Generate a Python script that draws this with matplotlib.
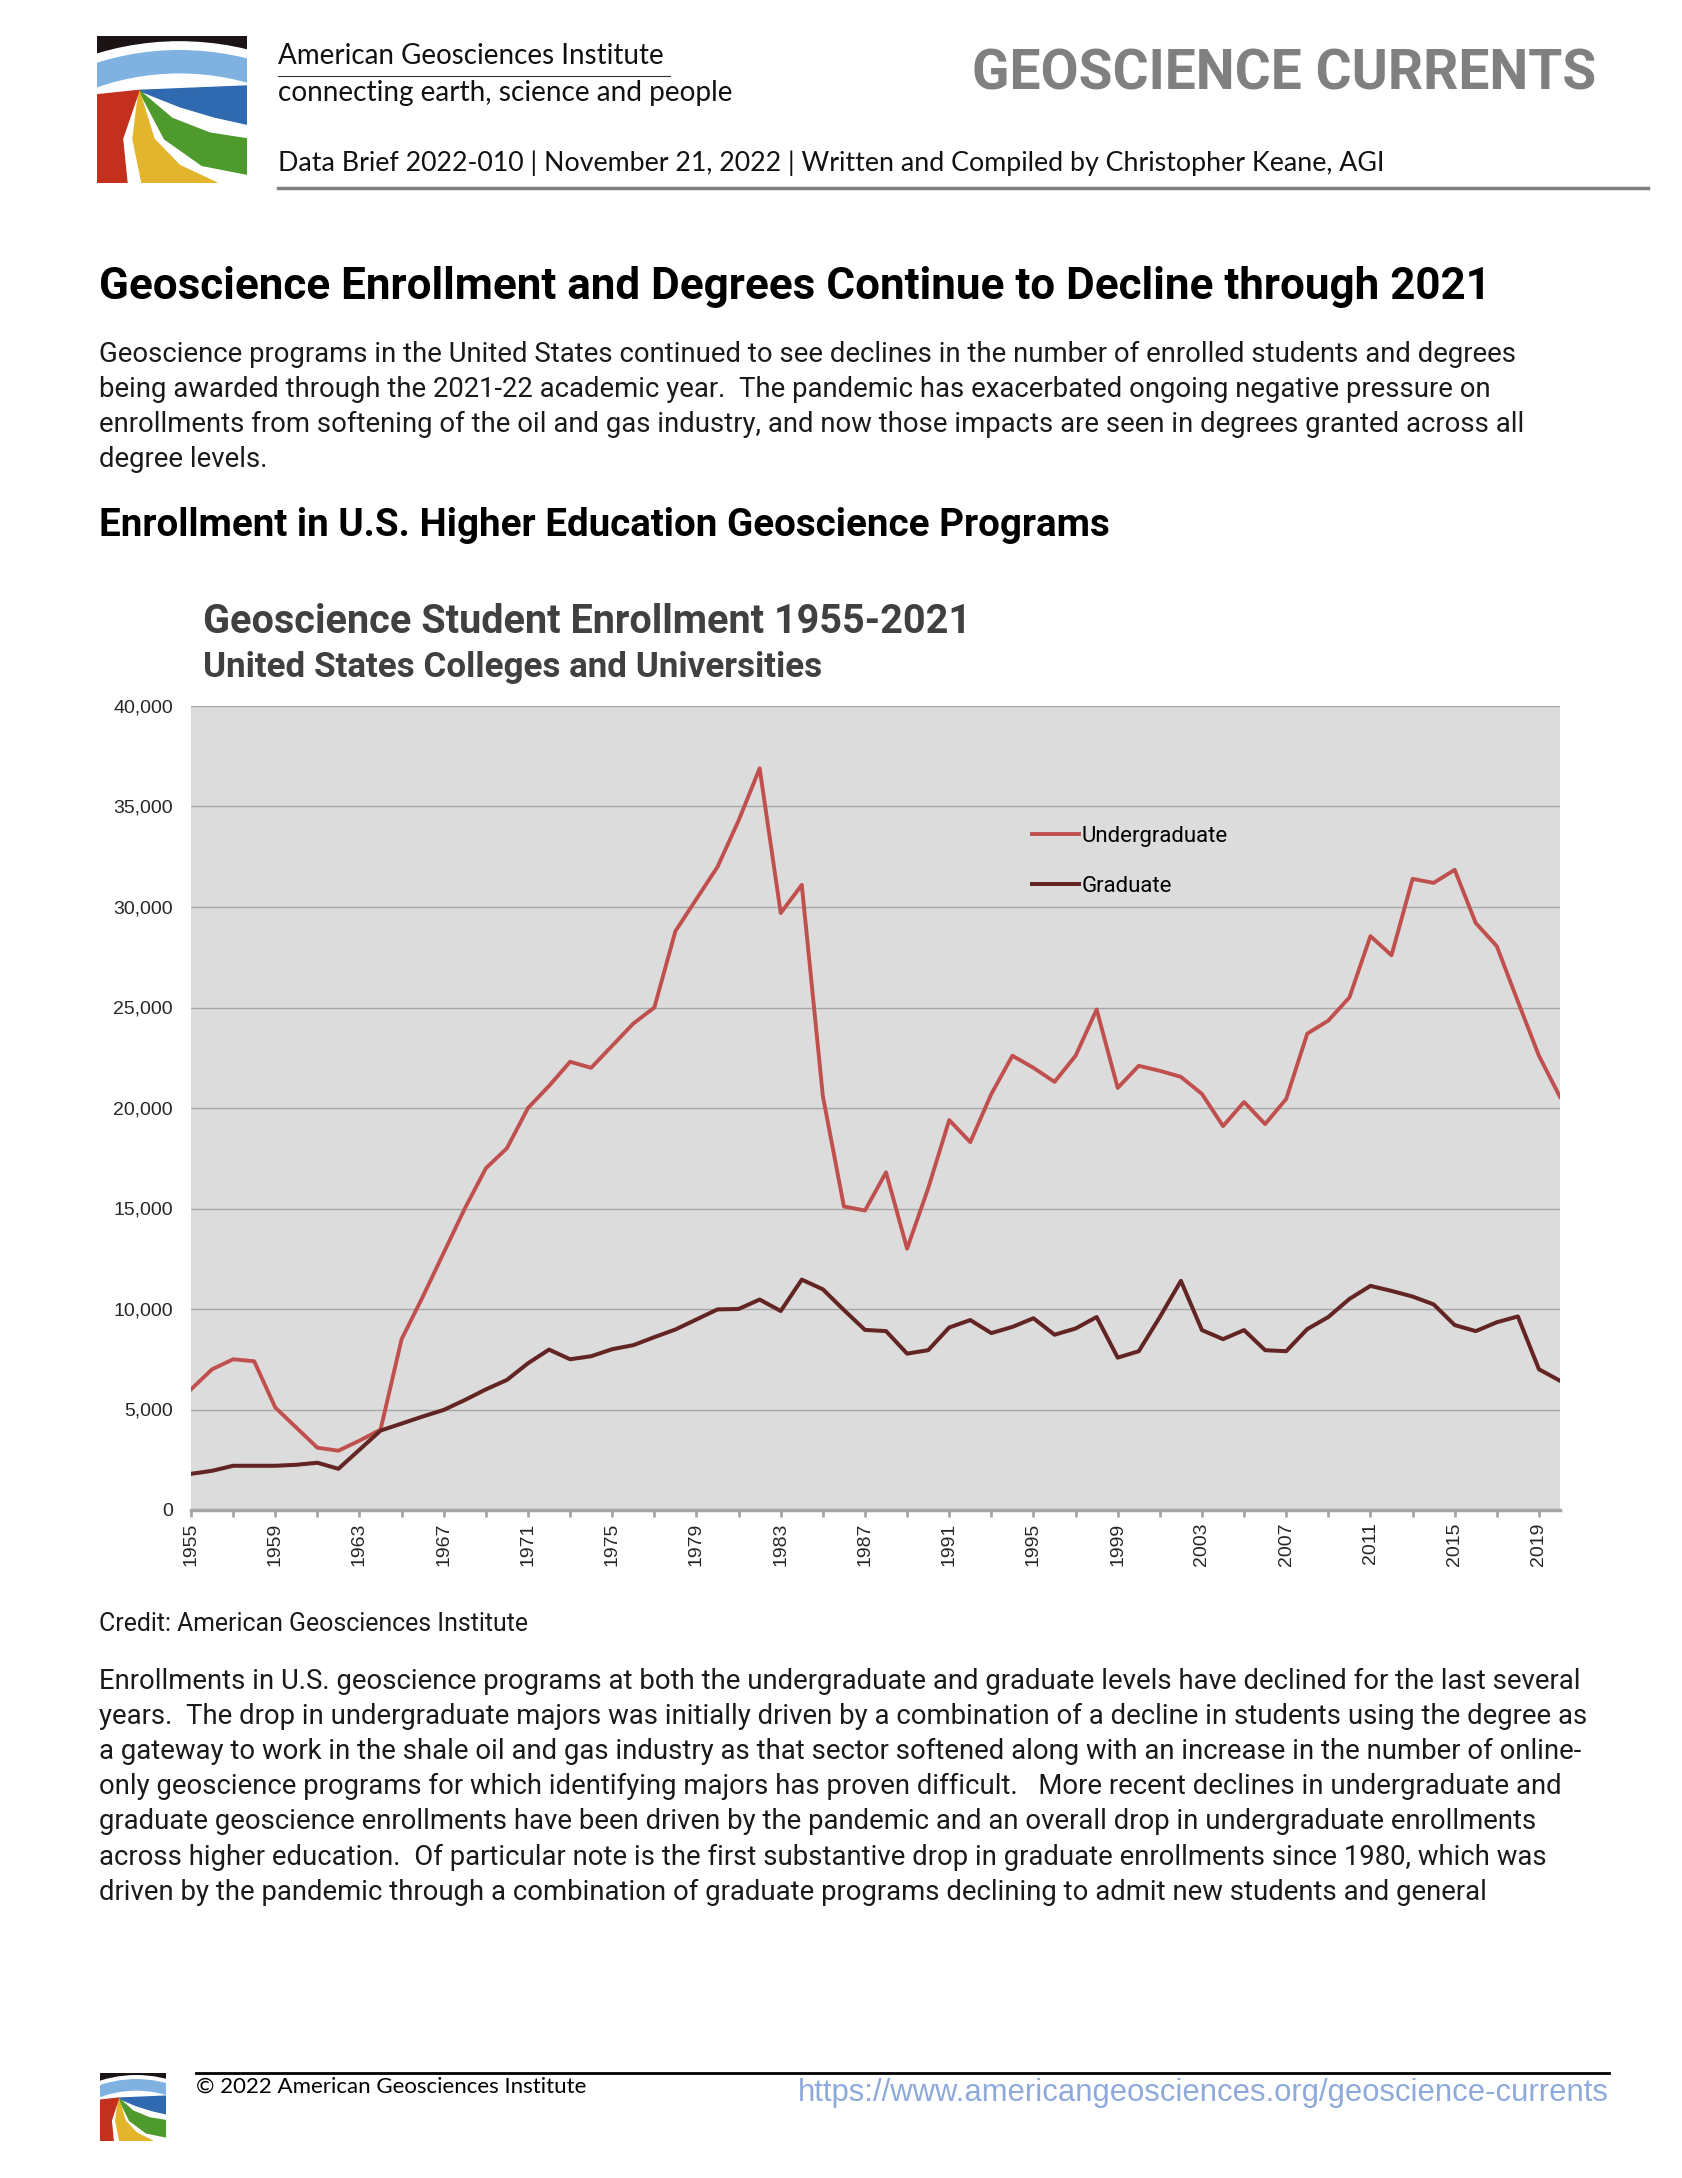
import matplotlib
matplotlib.use("Agg")
import matplotlib.pyplot as plt
from matplotlib import font_manager
from matplotlib.lines import Line2D
from matplotlib.patches import Rectangle, Wedge, Polygon
from matplotlib.ticker import FuncFormatter

# ==========================================
# 1. data
# ==========================================
years = list(range(1955, 2021))

undergrad = [
    6000, 7000, 7500, 7400, 5100, 4100, 3100, 2950, 3450, 4000,        # 1955-64
    8500, 10600, 12800, 15000, 17000, 18000, 20000, 21100, 22300, 22000,  # 1965-74
    23100, 24200, 25000, 28800, 30400, 32000, 34300, 36900, 29700, 31100,  # 1975-84
    20600, 15100, 14900, 16800, 13000, 16000, 19400, 18300, 20700, 22600,  # 1985-94
    22000, 21300, 22600, 24900, 21000, 22100, 21850, 21550, 20700, 19100,  # 1995-04
    20300, 19200, 20450, 23700, 24350, 25500, 28550, 27600, 31400, 31200,  # 2005-14
    31850, 29200, 28050, 25300, 22600, 20550,                              # 2015-20
]

graduate = [
    1800, 1950, 2200, 2200, 2200, 2250, 2350, 2050, 3000, 3950,
    4300, 4650, 4980, 5470, 6000, 6470, 7300, 7980, 7500, 7650,
    8000, 8200, 8600, 8980, 9480, 9980, 10000, 10470, 9900, 11460,
    10980, 9950, 8960, 8900, 7780, 7950, 9080, 9450, 8800, 9110,
    9540, 8720, 9030, 9600, 7580, 7900, 9600, 11400, 8950, 8500,
    8950, 7950, 7900, 9000, 9600, 10500, 11150, 10900, 10620, 10230,
    9200, 8900, 9340, 9630, 7000, 6430,
]

series_labels = ["Undergraduate", "Graduate"]
y_ticks = [0, 5000, 10000, 15000, 20000, 25000, 30000, 35000, 40000]
x_label_years = list(range(1955, 2020, 4))   # labelled ticks
x_minor_years = list(range(1957, 2020, 4))   # unlabelled ticks in between

header_org = "American Geosciences Institute"
header_tag = "connecting earth, science and people"
header_brand = "GEOSCIENCE CURRENTS"
header_brief = "Data Brief 2022-010 | November 21, 2022 | Written and Compiled by Christopher Keane, AGI"
heading = "Geoscience Enrollment and Degrees Continue to Decline through 2021"
intro_lines = [
    "Geoscience programs in the United States continued to see declines in the number of enrolled students and degrees",
    "being awarded through the 2021-22 academic year.  The pandemic has exacerbated ongoing negative pressure on",
    "enrollments from softening of the oil and gas industry, and now those impacts are seen in degrees granted across all",
    "degree levels.",
]
subheading = "Enrollment in U.S. Higher Education Geoscience Programs"
chart_title = "Geoscience Student Enrollment 1955-2021"
chart_subtitle = "United States Colleges and Universities"
credit = "Credit: American Geosciences Institute"
body_lines = [
    "Enrollments in U.S. geoscience programs at both the undergraduate and graduate levels have declined for the last several",
    "years.  The drop in undergraduate majors was initially driven by a combination of a decline in students using the degree as",
    "a gateway to work in the shale oil and gas industry as that sector softened along with an increase in the number of online-",
    "only geoscience programs for which identifying majors has proven difficult.   More recent declines in undergraduate and",
    "graduate geoscience enrollments have been driven by the pandemic and an overall drop in undergraduate enrollments",
    "across higher education.  Of particular note is the first substantive drop in graduate enrollments since 1980, which was",
    "driven by the pandemic through a combination of graduate programs declining to admit new students and general",
]
footer_left = "\u00a9 2022 American Geosciences Institute"
footer_url = "https://www.americangeosciences.org/geoscience-currents"

# ==========================================
# 2. look
# ==========================================
W, H = 1683, 2178
UG_COLOR = "#C0504D"
GR_COLOR = "#632523"
GRID = "#A6A6A6"
PLOT_BG = "#DCDCDC"


def has_font(name):
    try:
        font_manager.findfont(name, fallback_to_default=False)
        return True
    except Exception:
        return False


HUMAN = "Lato" if has_font("Lato") else "Open Sans"
ARIAL = ["Liberation Sans", "DejaVu Sans"]

plt.rcParams["font.family"] = ["Roboto", "DejaVu Sans"]


def fx(x):
    return x / W


def fy(y):
    return 1 - y / H


fig = plt.figure(figsize=(W / 100, H / 100), dpi=100)
fig.patch.set_facecolor("white")


def draw_logo(x0, y0, x1, y1):
    # rough stand-in for the AGI logo picture
    lax = fig.add_axes([fx(x0), fy(y1), fx(x1 - x0), (y1 - y0) / H])
    lax.set_xlim(0, 1)
    lax.set_ylim(0, 1)
    lax.axis("off")
    lax.add_patch(Rectangle((0, 0), 1, 1, color="#1c1414"))
    lax.add_patch(Wedge((0.55, -0.9), 1.86, 0, 180, width=0.30, color="white"))
    lax.add_patch(Wedge((0.55, -0.9), 1.80, 0, 180, width=0.15, color="#7fb2e0"))
    lax.add_patch(Wedge((0.55, -0.9), 1.56, 0, 180, color="white"))
    P = (0.28, 0.63)
    lax.add_patch(Polygon([P, (1, 0.66), (1, 0.40), (0.78, 0.45), (0.55, 0.52)], color="#2f69b0"))
    lax.add_patch(Polygon([P, (0.5, 0.44), (0.75, 0.34), (1, 0.30), (1, 0.06), (0.7, 0.12),
                           (0.45, 0.3)], color="#4f9a2c"))
    lax.add_patch(Polygon([P, (0.38, 0.3), (0.55, 0.12), (0.8, 0.0), (0.3, 0.0), (0.24, 0.3)],
                          color="#e3b52c"))
    lax.add_patch(Polygon([P, (0.17, 0.3), (0.2, 0.0), (0.0, 0.0), (0.0, 0.6)], color="#c3301d"))


# ==========================================
# 3. page header
# ==========================================
draw_logo(97, 36, 247, 183)
fig.text(fx(278), fy(56), header_org, family=HUMAN, fontsize=20, color="#111111", va="center")
fig.add_artist(Line2D([fx(278), fx(670)], [fy(76), fy(76)], color="#333333", lw=0.8))
fig.text(fx(278), fy(93), header_tag, family=HUMAN, fontsize=20.2, color="#111111", va="center")
fig.text(fx(1596), fy(75), header_brand, fontsize=39.7, fontweight="bold", color="#808080",
         ha="right", va="center")
fig.text(fx(278), fy(163), header_brief, family=HUMAN, fontsize=19.25, color="#111111", va="center")
fig.add_artist(Line2D([fx(278), fx(1648)], [fy(188), fy(188)], color="#808080", lw=2.5))

fig.text(fx(99), fy(287), heading, fontsize=31.7, fontweight="bold", color="black", va="center")
for i, line in enumerate(intro_lines):
    fig.text(fx(99), fy(354 + 35.3 * i), line, fontsize=19.8, color="#1a1a1a", va="center")
fig.text(fx(99), fy(526), subheading, fontsize=27.7, fontweight="bold", color="black", va="center")

# ==========================================
# 4. chart
# ==========================================
fig.text(fx(203), fy(622), chart_title, fontsize=28.5, fontweight="bold", color="#404040", va="center")
fig.text(fx(203), fy(668), chart_subtitle, fontsize=25.2, fontweight="bold", color="#404040", va="center")

ax = fig.add_axes([fx(191), fy(1510), fx(1560 - 191), (1510 - 706) / H])
ax.set_facecolor(PLOT_BG)
ax.plot(years, undergrad, color=UG_COLOR, lw=2.8, label=series_labels[0], zorder=3)
ax.plot(years, graduate, color=GR_COLOR, lw=2.9, label=series_labels[1], zorder=3)

ax.set_xlim(years[0], years[-1])
ax.set_ylim(y_ticks[0], y_ticks[-1])
ax.set_yticks(y_ticks)
ax.yaxis.set_major_formatter(FuncFormatter(lambda v, p: f"{int(v):,}"))
ax.grid(axis="y", color=GRID, lw=1.0, zorder=1)
ax.set_axisbelow(True)

ax.set_xticks(x_label_years)
ax.set_xticklabels([str(y) for y in x_label_years])
ax.set_xticks(x_minor_years, minor=True)

for side in ["top", "right", "left"]:
    ax.spines[side].set_visible(False)
ax.spines["bottom"].set_color(GRID)
ax.spines["bottom"].set_linewidth(2.5)
ax.spines["bottom"].set_zorder(4)

ax.tick_params(axis="y", length=0, pad=13, labelsize=14, labelcolor="#262626")
ax.tick_params(axis="x", which="both", length=5, width=2, color=GRID, pad=4, labelsize=14,
               labelcolor="#262626", labelrotation=90)
for lab in ax.get_xticklabels() + ax.get_yticklabels():
    lab.set_family(ARIAL)

ax.legend(loc="center left", bbox_to_anchor=(0.6143, 0.8066), frameon=False,
          fontsize=16, handlelength=2.1, handletextpad=0.14, labelspacing=1.3,
          borderpad=0, borderaxespad=0)

# ==========================================
# 5. text below chart and footer
# ==========================================
fig.text(fx(99), fy(1624), credit, fontsize=17.9, color="#1a1a1a", va="center")
for i, line in enumerate(body_lines):
    fig.text(fx(99), fy(1681 + 35.2 * i), line, fontsize=19.8, color="#1a1a1a", va="center")

fig.add_artist(Line2D([fx(196), fx(1609)], [fy(2073), fy(2073)], color="black", lw=2))
draw_logo(100, 2073, 166, 2141)
fig.text(fx(196), fy(2087), footer_left, family=HUMAN, fontsize=16, color="black", va="center")
fig.text(fx(1609), fy(2093), footer_url, family=ARIAL, fontsize=22.3,
         color="#8EAADB", ha="right", va="center")

fig.savefig("out.png", dpi=100)
